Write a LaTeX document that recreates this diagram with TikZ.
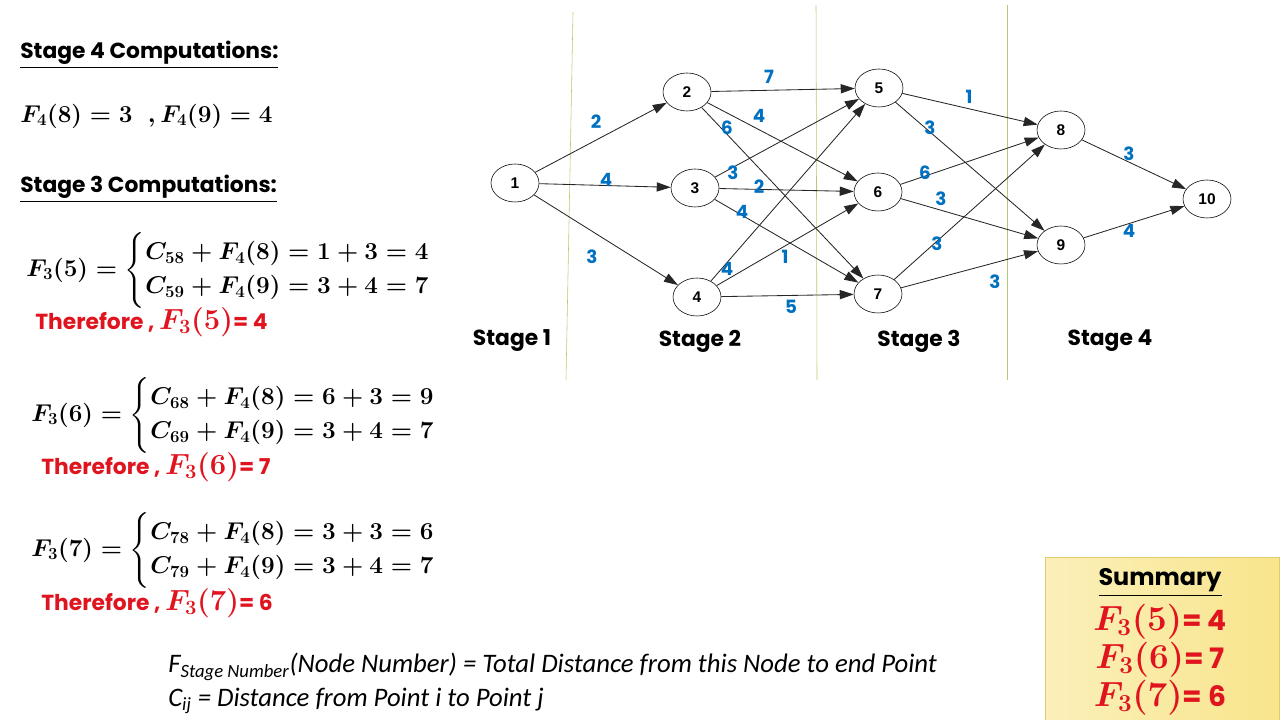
\documentclass[tikz,border=0pt]{standalone}
\usepackage{amsmath,amssymb}
\usepackage[no-math]{fontspec}
\newfontfamily\gothic{Poppins}
\newfontfamily\notefont{Carlito}
\newfontfamily\arialfont{Liberation Sans}
\definecolor{clEdge}{HTML}{0070C0}
\definecolor{clRed}{HTML}{E0141E}
\definecolor{clStage}{HTML}{B8CB6C}
\definecolor{clNote}{HTML}{F8E58C}
\definecolor{clNoteEdge}{HTML}{E2CC6A}
\usetikzlibrary{arrows.meta,positioning,shapes.geometric}
\tikzset{
  stnode/.style={ellipse, draw, thin, minimum width=12mm, minimum height=9.5mm,
                 inner sep=0pt, font=\arialfont\bfseries\fontsize{11}{11}\selectfont},
  flow/.style={-{Triangle[length=3.5mm,width=2.3mm]}, semithick, draw=black!85},
  wlabel/.style={text=clEdge, inner sep=0pt, font=\gothic\bfseries\fontsize{13}{13}\selectfont},
  stagelabel/.style={inner sep=0pt, font=\gothic\bfseries\fontsize{15.5}{15.5}\selectfont},
  divider/.style={draw=clStage, thin},
  heading/.style={anchor=west, inner sep=0pt, font=\gothic\bfseries\fontsize{15.5}{15.5}\selectfont},
  mathtxt/.style={anchor=west, inner sep=0pt, font=\fontsize{18}{20}\selectfont\boldmath},
  result/.style={anchor=west, inner sep=0pt, text=clRed, font=\gothic\bfseries\fontsize{15.5}{15.5}\selectfont\boldmath},
  note/.style={anchor=west, inner sep=0pt, font=\notefont\itshape\fontsize{19}{19}\selectfont},
  summarybox/.style={draw=clNoteEdge, left color=clNote!60!white, right color=clNote},
  summarytext/.style={inner sep=0pt, text=clRed, font=\gothic\bfseries\fontsize{20}{20}\selectfont\boldmath},
}
\newcommand{\bigF}[1]{{\fontsize{20}{20}\selectfont$F_3(#1)$}}
\newcommand{\sumF}[1]{{\fontsize{23}{23}\selectfont$F_3(#1)$}}

\begin{document}
\begin{tikzpicture}[x=0.025cm, y=-0.025cm]
  \useasboundingbox (0,0) rectangle (1280,720);
  % stage dividers
  \coordinate (d1t) at (573,12);  \coordinate (d1b) at (566,380);
  \coordinate (d2t) at (816,5);   \coordinate (d2b) at (817,380);
  \coordinate (d3t) at (1007,5);  \coordinate (d3b) at (1007,380);
  \draw[divider] (d1t) -- (d1b); \draw[divider] (d2t) -- (d2b); \draw[divider] (d3t) -- (d3b);

  % network
  \node[stnode] (n1) at (515,183) {1};
  \node[stnode] (n2) at (687,92) {2};
  \node[stnode] (n3) at (695,188) {3};
  \node[stnode] (n4) at (697,297) {4};
  \node[stnode] (n5) at (879,88) {5};
  \node[stnode] (n6) at (878,192) {6};
  \node[stnode] (n7) at (878,294) {7};
  \node[stnode] (n8) at (1061,130) {8};
  \node[stnode] (n9) at (1061,245) {9};
  \node[stnode] (n10) at (1207,199) {10};
  \draw[flow] (n1)--(n2); \draw[flow] (n1)--(n3); \draw[flow] (n1)--(n4);
  \draw[flow] (n2)--(n5); \draw[flow] (n2)--(n6); \draw[flow] (n2)--(n7);
  \draw[flow] (n3)--(n5); \draw[flow] (n3)--(n6); \draw[flow] (n3)--(n7);
  \draw[flow] (n4)--(n5); \draw[flow] (n4)--(n6); \draw[flow] (n4)--(n7);
  \draw[flow] (n5)--(n8); \draw[flow] (n5)--(n9);
  \draw[flow] (n6)--(n8); \draw[flow] (n6)--(n9);
  \draw[flow] (n7)--(n8); \draw[flow] (n7)--(n9);
  \draw[flow] (n8)--(n10); \draw[flow] (n9)--(n10);

  % distances
  \node[wlabel] (w12) at (596,122) {2};
  \node[wlabel] (w13) at (606,180) {4};
  \node[wlabel] (w14) at (592,257) {3};
  \node[wlabel] (w25) at (769,77) {7};
  \node[wlabel] (w26) at (759,116) {4};
  \node[wlabel] (w27) at (727,128) {6};
  \node[wlabel] (w35) at (733,173) {3};
  \node[wlabel] (w36) at (759,187) {2};
  \node[wlabel] (w37) at (742,212) {4};
  \node[wlabel] (w45) at (727,269) {4};
  \node[wlabel] (w46) at (785,257) {1};
  \node[wlabel] (w47) at (791,307) {5};
  \node[wlabel] (w58) at (969,97) {1};
  \node[wlabel] (w59) at (930,128) {3};
  \node[wlabel] (w68) at (925,173) {6};
  \node[wlabel] (w69) at (941,199) {3};
  \node[wlabel] (w78) at (937,244) {3};
  \node[wlabel] (w79) at (995,282) {3};
  \node[wlabel] (w810) at (1129,154) {3};
  \node[wlabel] (w910) at (1129,231) {4};

  \node[stagelabel] (s1) at (512,341) {Stage 1};
  \node[stagelabel] (s2) at (700,341) {Stage 2};
  \node[stagelabel] (s3) at (919,341) {Stage 3};
  \node[stagelabel] (s4) at (1110,341) {Stage 4};

  % computations
  \node[heading] (h4) at (20,55) {\underline{Stage 4 Computations:}};
  \node[mathtxt] (f4) at (20,116) {$F_4(8) = 3\ \ ,F_4(9) = 4$};
  \node[heading] (h3) at (20,189) {\underline{Stage 3 Computations:}};

  \node[mathtxt] (f35) at (26,270) {$F_3(5) = \begin{cases} C_{58} + F_4(8) = 1 + 3 = 4\\ C_{59} + F_4(9) = 3 + 4 = 7\end{cases}$};
  \node[result] (r5) at (35,322) {Therefore , \bigF{5}= 4};
  \node[mathtxt] (f36) at (31,415) {$F_3(6) = \begin{cases} C_{68} + F_4(8) = 6 + 3 = 9\\ C_{69} + F_4(9) = 3 + 4 = 7\end{cases}$};
  \node[result] (r6) at (41,467) {Therefore , \bigF{6}= 7};
  \node[mathtxt] (f37) at (31,550) {$F_3(7) = \begin{cases} C_{78} + F_4(8) = 3 + 3 = 6\\ C_{79} + F_4(9) = 3 + 4 = 7\end{cases}$};
  \node[result] (r7) at (41,603) {Therefore , \bigF{7}= 6};

  \node[note] (def1) at (168,667) {F\textsubscript{Stage Number}(Node Number) = Total Distance from this Node to end Point};
  \node[note] (def2) at (168,701) {C\textsubscript{ij} = Distance from Point i to Point j};

  % summary
  \draw[summarybox] (1045,557) rectangle (1279,722);
  \node[inner sep=0pt, font=\gothic\bfseries\fontsize{17}{17}\selectfont] (sum) at (1160,583) {\underline{Summary}};
  \node[summarytext] (sum5) at (1160,622) {\sumF{5}= 4};
  \node[summarytext] (sum6) at (1160,660) {\sumF{6}= 7};
  \node[summarytext] (sum7) at (1160,698) {\sumF{7}= 6};
\end{tikzpicture}
\end{document}
